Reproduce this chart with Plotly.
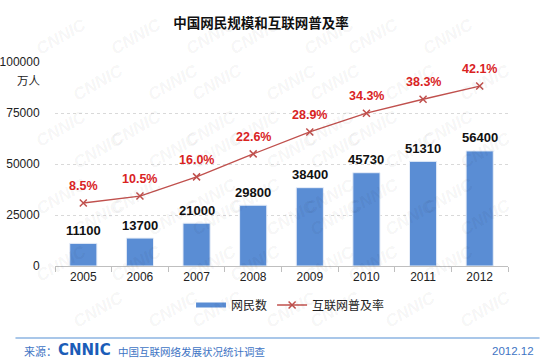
import plotly.graph_objects as go

years = ["2005", "2006", "2007", "2008", "2009", "2010", "2011", "2012"]
netizens = [11100, 13700, 21000, 29800, 38400, 45730, 51310, 56400]
penetration = [8.5, 10.5, 16.0, 22.6, 28.9, 34.3, 38.3, 42.1]
y_ticks = [0, 25000, 50000, 75000, 100000]

FONT = "Liberation Sans, Arial, Noto Sans CJK SC, sans-serif"
CJK = "Noto Sans CJK SC, sans-serif"
BAR_COLOR = "#5A8DD4"
LINE_COLOR = "#C0504D"
LABEL_RED = "#D9231F"

fig = go.Figure()

fig.add_trace(go.Bar(
    x=years, y=netizens, name="网民数", showlegend=False,
    marker=dict(color=BAR_COLOR, line=dict(color="#E8EEF8", width=1)),
    yaxis="y",
))
fig.add_trace(go.Scatter(
    x=years, y=penetration, name="互联网普及率", mode="lines+markers",
    line=dict(color=LINE_COLOR, width=1.3),
    marker=dict(symbol="x-thin", size=7, line=dict(color=LINE_COLOR, width=1.5)),
    yaxis="y2", showlegend=False,
))
# legend proxies
fig.add_trace(go.Scatter(x=[years[0]], y=[None], mode="lines", name="网民数",
                         line=dict(color=BAR_COLOR, width=5)))
fig.add_trace(go.Scatter(x=[years[0]], y=[None], mode="lines+markers", name="互联网普及率",
                         line=dict(color=LINE_COLOR, width=1.3),
                         marker=dict(symbol="x-thin", size=7, line=dict(color=LINE_COLOR, width=1.5))))

W, H = 560, 362
PL, PR, PT, PB = 54.6, 508.4, 62, 266


def px_x(px):
    return (px - PL) / (PR - PL)


def px_y(py):
    return (PB - py) / (PB - PT)


annotations = []
# watermark (faint, kept inside canvas)
for r in range(8):
    for c in range(8):
        cx = 30 + c * 75 + (r % 2) * 37
        cy = 12 + r * 46
        if cx > 540 or cy > 352:
            continue
        annotations.append(dict(
            xref="paper", yref="paper", x=px_x(cx), y=px_y(cy),
            text="<b><i>CNNIC</i></b>", showarrow=False, textangle=-30,
            font=dict(family=FONT, size=17, color="rgba(0,0,0,0.055)"),
        ))

for i, v in enumerate(netizens):
    annotations.append(dict(x=i, y=v, xref="x", yref="y", text=f"<b>{v}</b>",
                            showarrow=False, yshift=13, yanchor="middle",
                            font=dict(family=FONT, size=13, color="#111111")))
for i, p in enumerate(penetration):
    annotations.append(dict(x=i, y=p, xref="x", yref="y2", text=f"<b>{p:.1f}%</b>",
                            showarrow=False, yshift=17, yanchor="middle",
                            font=dict(family=FONT, size=12.5, color=LABEL_RED)))

annotations.append(dict(xref="paper", yref="y", x=0, y=91000, xanchor="right", xshift=-12,
                        text="万人", showarrow=False,
                        font=dict(family=CJK, size=11.5, color="#222222")))

annotations += [
    dict(xref="paper", yref="paper", x=px_x(22), y=px_y(351), xanchor="left", yanchor="middle",
         text="来源：", showarrow=False, font=dict(family=CJK, size=11, color="#3E74C4")),
    dict(xref="paper", yref="paper", x=px_x(56), y=px_y(350), xanchor="left", yanchor="middle",
         text="<b>CNNIC</b>", showarrow=False,
         font=dict(family="DejaVu Sans, sans-serif", size=15, color="#1B5DB8")),
    dict(xref="paper", yref="paper", x=px_x(116), y=px_y(351), xanchor="left", yanchor="middle",
         text="中国互联网络发展状况统计调查", showarrow=False,
         font=dict(family=CJK, size=10.5, color="#3E74C4")),
    dict(xref="paper", yref="paper", x=px_x(536), y=px_y(351), xanchor="right", yanchor="middle",
         text="2012.12", showarrow=False, font=dict(family=FONT, size=11.5, color="#3E74C4")),
]

fig.update_layout(
    width=W, height=H,
    margin=dict(l=PL, r=W - PR, t=PT, b=H - PB, autoexpand=False),
    paper_bgcolor="white", plot_bgcolor="rgba(0,0,0,0)",
    font=dict(family=FONT, size=12, color="#222222"),
    title=dict(text="<b>中国网民规模和互联网普及率</b>", x=261 / W, xanchor="center",
               y=1 - 23 / H, yanchor="middle",
               font=dict(family=CJK, size=13.5, color="#111111")),
    bargap=0.52,
    xaxis=dict(type="category", categoryorder="array", categoryarray=years,
               range=[-0.5, len(years) - 0.5], autorange=False,
               showline=True, linecolor="#BFBFBF", linewidth=1,
               ticks="outside", tickson="boundaries", ticklen=5, tickcolor="#BFBFBF",
               tickangle=0, showgrid=False, tickfont=dict(family=FONT, size=12, color="#222222")),
    yaxis=dict(range=[0, 100000], tickvals=y_ticks, ticktext=[str(t) for t in y_ticks],
               showgrid=True, gridcolor="#D9D9D9", griddash="3px,3px", gridwidth=1,
               zeroline=False, showline=False, ticks="outside", ticklen=12,
               tickcolor="rgba(0,0,0,0)", tickfont=dict(family=FONT, size=12, color="#222222")),
    yaxis2=dict(range=[-9.6, 49.0], overlaying="y", side="right", visible=False),
    legend=dict(orientation="h", x=0.52, xanchor="center", y=px_y(305), yanchor="middle",
                font=dict(family=CJK, size=12, color="#222222"), bgcolor="rgba(0,0,0,0)"),
    shapes=[dict(type="line", xref="paper", yref="paper", x0=px_x(15), x1=px_x(540),
                 y0=px_y(338), y1=px_y(338), line=dict(color="#8DB4E2", width=1.5))],
    annotations=annotations,
)

fig.write_html("out.html", config={"displayModeBar": False},
               post_script="document.body.style.margin='0';")
